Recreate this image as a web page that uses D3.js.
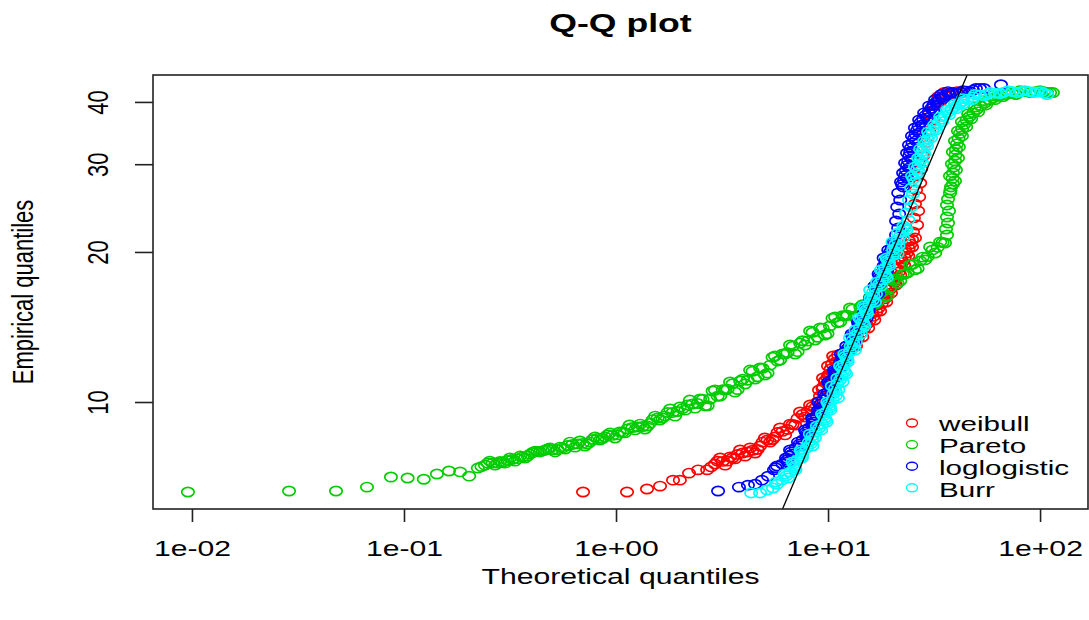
<!DOCTYPE html>
<html>
<head>
<meta charset="utf-8">
<script src="https://cdn.jsdelivr.net/npm/d3@7"></script>
<style>
  body { margin: 0; background: #fff; }
  text { font-family: "Liberation Sans", Arial, sans-serif; fill: #000; }
</style>
</head>
<body>
<div id="chart"></div>
<script>
var width = 1089,
    height = 620;

// the original picture is wider than tall, so glyphs and circles are stretched
var stretch = 1.37;

var xTicks = [0.01, 0.1, 1, 10, 100];
var xTickLabels = ["1e-02", "1e-01", "1e+00", "1e+01", "1e+02"];
var yTicks = [10, 20, 30, 40];
var xLimits = [0.00655, 168.3];
var yLimits = [6.10, 45.3];

var distNames = ["weibull", "Pareto", "loglogistic", "Burr"];
var distColors = ["#FF0000", "#00CD00", "#0000FF", "#00FFFF"];

// [theoretical quantile, empirical quantile]
var weibull = [
  [0.699,6.60],[1.127,6.60],[1.400,6.69],[1.613,6.78],[1.857,6.97],[2.00,6.97],[2.21,7.20],[2.44,7.31],[2.69,7.31],
  [2.93,7.51],[3.10,7.72],[3.27,7.47],[3.45,7.76],[3.64,7.69],[3.85,8.01],[4.06,7.79],[4.29,8.09],[4.53,7.90],[4.78,8.16],
  [5.04,8.47],[5.33,8.31],[5.62,8.51],[5.94,8.87],[6.27,8.59],[6.62,9.03],[6.99,8.99],[7.38,9.55],[7.79,9.33],[8.23,9.86],
  [8.68,9.72],[9.17,10.28],[9.68,11.02],[10.2,11.38],
  [2.81,7.41],[3.01,7.61],[3.18,7.60],[3.36,7.61],[3.54,7.72],[3.74,7.85],[3.95,7.90],[4.17,7.94],[4.41,8.00],[4.65,8.03],
  [4.91,8.31],[5.18,8.39],[5.47,8.41],[5.78,8.69],[6.10,8.73],[6.44,8.81],[6.80,9.01],[7.18,9.27],[7.58,9.44],[8.01,9.59],
  [8.45,9.79],[8.92,10.0],[9.42,10.64],[9.94,11.2],
  [9.07,10.57],[9.89,10.87],[9.47,11.17],[10.57,11.49],[10.0,11.81],[10.9,12.03],[10.57,12.37],[11.74,12.48],[12.43,12.83],
  [13.55,12.95],[13.12,13.32],[14.51,13.50],[14.05,13.95],[15.46,14.08],[14.9,14.54],[16.52,14.61],[16.15,15.09],[17.6,15.23],
  [17.04,15.65],[18.8,15.87],[18.2,16.32],[19.8,16.55],[19.18,17.02],[20.9,17.17],[20.25,17.65],[21.9,17.98],[21.2,18.49],
  [22.85,18.83],[22.1,19.36],[23.9,19.63],[23.1,20.19],[24.9,20.47],[24.1,21.04],[25.7,21.34],
  [9.48,10.72],[9.68,11.02],[10.02,11.33],[10.29,11.65],[10.45,11.92],[10.74,12.2],[11.16,12.43],[12.09,12.66],[12.99,12.89],
  [13.34,13.14],[13.82,13.41],[14.28,13.73],[14.76,14.02],[15.18,14.31],[15.71,14.58],[16.34,14.85],[16.88,15.16],[17.32,15.44],
  [17.92,15.76],[18.5,16.1],[19.0,16.44],[19.49,16.79],[20.04,17.1],[20.58,17.41],[21.08,17.82],[21.55,18.24],[22.03,18.66],
  [22.48,19.1],[23.0,19.5],[23.5,19.91],[24.0,20.33],[24.5,20.76],[24.9,21.19],
  [25.15,21.94],[26.3,22.66],[25.4,23.41],[26.6,24.18],[25.7,24.96],[26.9,25.79],[26.0,26.64],[27.2,27.51],[26.3,28.42],
  [27.5,29.36],[26.6,30.32],[28.1,31.17],[27.2,32.2],[29.0,33.1],[28.1,34.03],[30.0,34.99],[29.0,35.98],[31.3,36.82],
  [30.0,37.86],[32.0,38.55],[31.65,39.63],[33.8,40.0],[33.1,41.0],[36.0,41.0],[35.2,41.77],[38.4,41.58],[40.6,41.96],[42.8,41.77]
];

var pareto = [
  [0.00957,6.60],[0.0287,6.63],[0.0478,6.63],[0.0669,6.75],[0.0868,7.07],[0.104,7.04],[0.124,7.00],[0.143,7.17],
  [0.163,7.27],[0.184,7.24],[0.203,7.10],[0.223,7.37],
  [0.241,7.47],[0.254,7.61],[0.269,7.47],[0.284,7.60],[0.300,7.54],[0.316,7.72],[0.334,7.61],[0.353,7.79],[0.372,7.72],
  [0.393,7.86],[0.415,7.97],[0.438,7.94],[0.463,8.01],[0.488,8.09],[0.516,7.94],[0.544,8.12],[0.575,8.05],[0.607,8.31],
  [0.641,8.12],[0.676,8.35],[0.714,8.16],[0.754,8.31],[0.796,8.51],[0.840,8.39],[0.887,8.51],[0.937,8.67],[0.989,8.47],
  [1.04,8.71],[1.10,8.67],[1.16,8.99],[1.23,8.79],[1.30,9.03],[1.37,8.83],[1.45,9.07],[1.53,9.37],[1.61,9.20],[1.70,9.37],
  [1.80,9.68],[1.90,9.37],[2.00,9.77],[2.12,9.63],[2.23,10.09],[2.36,9.72],[2.49,10.14],[2.63,9.82],[2.78,10.14],[2.93,10.57],
  [3.10,10.28],[3.27,10.57],[3.45,10.97],[3.64,10.47],[3.85,11.02],[4.06,10.87],[4.29,11.59],[4.53,11.12],[4.78,11.70],
  [5.04,11.33],[5.33,11.86],[5.62,12.37],[5.94,12.14],[6.27,12.48],[6.62,13.01],[6.99,12.48],[7.38,13.13],[7.79,13.01],
  [8.23,13.88],[8.68,13.32],[9.17,14.08],[9.68,13.63],[10.2,14.21],[10.8,14.81],[11.4,14.47],[12.0,14.88],[12.7,15.44],
  [13.4,14.81],[14.2,15.51],[14.9,15.37],[15.8,16.24],[16.7,15.73],[17.6,16.55],[18.6,16.24],[19.6,16.94],[20.7,17.65],
  [21.9,17.49],[23.1,18.07],[24.4,18.83],[25.7,18.41],[27.2,19.19],[28.7,19.28],[30.3,20.47],[32.0,19.91],[33.8,20.95],[35.6,20.85],
  [0.232,7.42],[0.248,7.54],[0.262,7.54],[0.277,7.54],[0.292,7.57],[0.308,7.63],[0.325,7.67],[0.344,7.70],[0.363,7.76],
  [0.383,7.79],[0.404,7.92],[0.427,7.96],[0.451,7.98],[0.476,8.05],[0.502,8.02],[0.530,8.03],[0.560,8.09],[0.591,8.18],
  [0.624,8.22],[0.659,8.24],[0.695,8.26],[0.734,8.24],[0.775,8.41],[0.818,8.45],[0.864,8.45],[0.912,8.59],[0.963,8.57],
  [1.015,8.59],[1.07,8.69],[1.13,8.83],[1.195,8.89],[1.265,8.91],[1.335,8.93],[1.41,8.95],[1.49,9.22],[1.57,9.29],
  [1.655,9.29],[1.75,9.53],[1.85,9.53],[1.95,9.57],[2.06,9.70],[2.175,9.86],[2.295,9.91],[2.425,9.93],[2.56,10.13],
  [2.705,9.83],[2.855,10.52],[3.015,10.27],[3.185,10.59],[3.36,10.61],[3.545,10.88],[3.745,10.59],[3.955,11.11],[4.175,11.06],
  [4.41,11.53],[4.655,11.24],[4.91,11.69],[5.185,11.43],[5.475,12.30],[5.78,12.08],[6.105,12.49],[6.445,12.56],[6.805,12.94],
  [7.185,12.62],[7.585,13.27],[8.01,13.25],[8.455,13.80],[8.925,13.49],[9.425,14.07],[9.94,13.71],[10.5,14.73],[11.1,14.42],
  [11.7,14.90],[12.35,14.93],[13.05,15.36],[13.8,14.93],[14.55,15.67],[15.35,15.57],[16.25,16.23],[17.15,15.90],[18.1,16.65],
  [19.1,16.34],[20.15,17.56],[21.3,17.31],[22.5,18.05],[23.75,18.17],[25.05,18.90],[26.45,18.52],[27.95,19.53],[29.5,19.58],
  [31.15,20.19],[32.9,20.43],[34.7,20.90],
  [36.4,21.63],[36.0,22.24],[36.8,22.87],[36.4,23.51],[37.2,24.18],[36.4,24.85],[36.8,25.55],[37.6,26.27],
  [38.0,27.01],[39.7,27.77],[37.6,28.42],[40.1,29.22],[38.4,30.04],[41.0,30.88],[38.8,31.75],[41.4,32.50],[39.7,33.42],
  [42.8,34.19],[41.0,34.99],[44.8,35.64],[42.8,36.49],[47.3,36.99],[45.8,37.86],[51.0,38.21],[49.3,39.08],[55.6,39.45],
  [54.4,40.25],[61.3,40.44],[60.0,41.19],[66.9,41.0],[70.7,41.77],[77.0,41.39],[80.5,42.15],[89.7,41.77],[100,42.15],
  [108,41.77],[115,41.77],
  [37.8,26.64],[38.85,27.39],[38.65,28.1],[38.85,28.82],[39.25,29.63],[39.7,30.46],[39.9,31.3],[40.1,32.1],[40.55,32.96],
  [41.25,33.8],[41.9,34.59],[42.9,35.3],[43.8,36.05],[45.05,36.74],[46.55,37.4],[48.4,38.0],[50.15,38.63],[52.45,39.25],
  [55.0,39.85],[57.85,40.34],[60.65,40.8],[63.45,41.1],[68.8,41.39],[73.85,41.58],[78.75,41.77],[85.1,41.96],[94.85,41.96],
  [104,41.96],[111.5,41.77]
];

var loglogistic = [
  [3.03,6.63],[3.80,6.75],[4.19,6.81],[4.53,6.84],[4.88,6.97],[5.21,7.10],
  [5.56,7.31],[5.75,7.44],[6.45,7.58],[6.34,7.72],[6.77,7.86],[6.62,8.01],[7.46,8.16],[7.22,8.31],[7.96,8.47],[7.93,8.63],
  [7.79,8.79],[8.46,8.95],[8.50,9.12],[8.41,9.29],[9.27,9.46],[8.97,9.63],[9.44,9.82],[9.02,10.0],[9.93,10.19],[9.59,10.38],
  [10.42,10.57],[10.28,10.77],[10.03,10.97],[10.8,11.17],[10.8,11.38],[10.68,11.59],[11.74,11.81],[11.4,12.03],[12.0,12.25],
  [11.5,12.48],[12.65,12.71],[12.2,12.95],[13.33,13.19],[13.18,13.44],[12.92,13.69],[13.96,13.95],[13.98,14.21],[13.86,14.47],
  [15.23,14.74],[14.71,15.02],[15.55,15.30],[14.8,15.58],[16.39,15.87],[15.8,16.17],[17.19,16.47],[16.98,16.78],[16.55,17.09],
  [17.74,17.41],[17.64,17.74],[17.32,18.07],[19.03,18.41],[18.29,18.75],[19.18,19.10],[18.29,19.45],[20.01,19.82],[19.24,20.19],
  [20.78,20.56],[20.36,20.95],
  [5.66,7.38],[6.10,7.51],[6.40,7.65],[6.56,7.79],[6.70,7.94],[7.04,8.09],[7.34,8.23],[7.59,8.39],[7.95,8.55],[7.86,8.71],
  [8.13,8.87],[8.48,9.04],[8.46,9.21],[8.84,9.38],[9.12,9.55],[9.21,9.73],[9.23,9.91],[9.48,10.1],[9.76,10.29],[10.0,10.48],
  [10.35,10.67],[10.16,10.87],[10.42,11.07],[10.8,11.28],[10.74,11.49],[11.21,11.7],[11.57,11.92],[11.7,12.14],[11.75,12.37],
  [12.08,12.6],[12.43,12.83],[12.77,13.07],[13.26,13.32],[13.05,13.57],[13.44,13.82],[13.97,14.08],[13.92,14.34],[14.55,14.61],
  [14.97,14.88],[15.13,15.16],[15.18,15.44],[15.6,15.73],[16.1,16.02],[16.5,16.32],[17.09,16.63],[16.77,16.94],[17.15,17.25],
  [17.69,17.58],[17.48,17.91],[18.18,18.24],[18.66,18.58],[18.74,18.93],[18.74,19.28],[19.15,19.64],[19.63,20.0],[20.01,20.38],
  [20.57,20.76],
  [20.93,21.63],[21.43,22.35],[20.93,23.08],[21.66,23.84],[21.2,24.63],[21.9,25.43],[21.43,26.27],[22.6,27.01],
  [22.1,27.64],[23.6,28.16],[22.6,28.81],[24.1,29.49],[23.1,30.18],[24.7,30.74],[23.6,31.6],[25.15,31.9],[24.1,32.8],
  [26.0,33.42],[24.9,34.19],[26.9,34.67],[25.7,35.48],[27.8,35.98],[26.9,36.82],[29.3,37.16],[28.4,38.03],[31.3,38.38],
  [30.0,39.27],[32.7,39.45],[32.0,40.44],[34.8,40.62],[34.2,41.39],[37.6,41.19],[36.8,41.96],[40.6,41.58],[43.3,42.15],
  [46.8,41.96],[49.8,42.55],[54.4,42.55],[65.4,43.3],
  [22.35,27.32],[22.85,27.9],[23.1,28.48],[23.35,29.15],[23.6,29.83],[23.9,30.46],[24.15,31.17],[24.4,31.75],[24.6,32.35],
  [25.05,33.11],[25.45,33.8],[25.9,34.43],[26.3,35.07],[26.75,35.73],[27.35,36.4],[28.1,36.99],[28.85,37.6],[29.85,38.2],
  [30.65,38.82],[31.35,39.36],[32.35,39.94],[33.4,40.53],[34.5,41.0],[35.9,41.29],[37.2,41.58],[38.7,41.77],[41.95,41.86],
  [45.05,42.05],[48.3,42.25],[52.1,42.55]
];

var burr = [
  [4.34,6.57],[4.78,6.57],[5.16,6.66],[5.50,6.72],[5.75,6.84],
  [5.68,6.91],[6.47,7.04],[6.24,7.17],[7.02,7.31],[6.97,7.44],[6.80,7.58],[7.53,7.72],[7.54,7.86],[7.44,8.01],[8.44,8.16],
  [8.12,8.31],[8.67,8.47],[8.21,8.63],[9.28,8.79],[8.86,8.95],[9.85,9.12],[9.66,9.29],[9.37,9.46],[10.25,9.63],[10.17,9.82],
  [9.93,10.0],[11.13,10.19],[10.6,10.38],[11.18,10.57],[10.42,10.77],[11.7,10.97],[11.07,11.17],[12.17,11.38],[11.84,11.59],
  [11.4,11.81],[12.37,12.03],[12.26,12.25],[11.93,12.48],[13.4,12.71],[12.8,12.95],[13.52,13.19],[12.7,13.44],[14.28,13.69],
  [13.48,13.95],[14.84,14.21],[14.55,14.47],[14.03,14.74],[15.25,15.02],[15.12,15.30],[14.72,15.58],[16.63,15.87],[15.87,16.17],
  [16.83,16.47],[15.8,16.78],[17.83,17.09],[17.05,17.41],[18.89,17.74],[18.43,18.07],[17.79,18.41],[19.45,18.75],[19.3,19.10],
  [18.91,19.45],[21.26,19.82],[20.27,20.19],[21.5,20.56],[20.14,20.95],[22.6,21.34],[21.36,21.83],[23.47,22.14],[22.7,22.55],
  [6.08,6.98],[6.36,7.11],[6.63,7.24],[7.0,7.38],[6.89,7.51],[7.17,7.65],[7.54,7.79],[7.49,7.94],[7.94,8.09],[8.28,8.24],
  [8.4,8.39],[8.44,8.55],[8.75,8.71],[9.07,8.87],[9.36,9.04],[9.76,9.21],[9.52,9.38],[9.81,9.55],[10.21,9.73],[10.05,9.91],
  [10.53,10.1],[10.87,10.29],[10.89,10.48],[10.8,10.67],[11.06,10.87],[11.39,11.07],[11.62,11.28],[12.0,11.49],[11.62,11.7],
  [11.89,11.92],[12.32,12.14],[12.1,12.37],[12.67,12.6],[13.1,12.83],[13.16,13.07],[13.11,13.32],[13.49,13.57],[13.88,13.82],
  [14.16,14.08],[14.7,14.34],[14.29,14.61],[14.64,14.88],[15.19,15.16],[14.92,15.44],[15.68,15.73],[16.25,16.02],[16.35,16.32],
  [16.32,16.63],[16.82,16.94],[17.44,17.25],[17.97,17.58],[18.66,17.91],[18.11,18.24],[18.62,18.58],[19.38,18.93],[19.1,19.28],
  [20.09,19.64],[20.77,20.0],[20.89,20.38],[20.82,20.76],[21.37,21.15],[21.98,21.59],[22.42,21.99],[23.09,22.35],
  [23.9,23.19],[23.35,23.95],[24.7,24.63],[24.1,25.43],[25.15,26.15],[24.7,26.88],[25.7,27.64],
  [24.9,28.42],[26.9,28.94],[25.7,29.63],[27.8,30.18],[26.6,30.88],[28.4,31.46],[27.2,32.2],[29.3,32.65],[28.4,33.42],
  [30.6,33.88],[29.65,34.83],[32.35,35.15],[31.65,35.98],[34.5,36.49],[33.8,37.34],[37.2,37.69],[36.4,38.55],[40.1,38.73],
  [39.7,39.63],[43.3,39.63],[43.3,40.62],[47.8,40.44],[49.3,41.39],[55.0,41.19],[58.1,41.77],[64.7,41.58],[70.6,42.15],
  [77.9,41.77],[84.9,42.15],[93.7,41.77],[101.1,41.96],[108,41.39],
  [25.3,28.03],[25.9,28.68],[26.3,29.28],[26.75,29.9],[27.2,30.53],[27.5,31.17],[27.8,31.83],[28.25,32.42],[28.85,33.03],
  [29.5,33.65],[30.1,34.35],[31.0,34.99],[32.0,35.56],[33.05,36.23],[34.15,36.91],[35.5,37.51],[36.8,38.12],[38.25,38.64],
  [39.9,39.18],[41.5,39.63],[43.3,40.12],[45.55,40.53],[48.55,40.91],[52.15,41.29],[56.55,41.48],[61.4,41.67],[67.65,41.86],
  [74.25,41.96],[81.4,41.96],[89.3,41.96],[97.4,41.86],[104.5,41.67]
];

var series = [weibull, pareto, loglogistic, burr];

var plot = {left: 153, right: 1088, top: 75, bottom: 509};

var svg = d3.select("#chart")
  .append("svg")
  .attr("width", width)
  .attr("height", height);

var x = d3.scaleLog().domain(xLimits).range([plot.left, plot.right]);
var y = d3.scaleLog().domain(yLimits).range([plot.bottom, plot.top]);

// points, in the order R draws them
series.forEach(function(data, i){
  svg.append("g")
    .selectAll("ellipse")
    .data(data)
    .enter()
    .append("ellipse")
    .attr("cx", function(d){ return x(d[0]) })
    .attr("cy", function(d){ return y(d[1]) })
    .attr("rx", 6.2)
    .attr("ry", 4.6)
    .attr("fill", "none")
    .attr("stroke", distColors[i])
    .attr("stroke-width", 1.7);
});

// y = x reference line
svg.append("line")
  .attr("x1", x(yLimits[0])).attr("y1", y(yLimits[0]))
  .attr("x2", x(yLimits[1])).attr("y2", y(yLimits[1]))
  .attr("stroke", "#000")
  .attr("stroke-width", 1.3);

// box
svg.append("rect")
  .attr("x", plot.left).attr("y", plot.top)
  .attr("width", plot.right - plot.left)
  .attr("height", plot.bottom - plot.top)
  .attr("fill", "none")
  .attr("stroke", "#222")
  .attr("stroke-width", 1.6);

// x axis
var gx = svg.append("g")
  .attr("transform", "translate(0," + plot.bottom + ")")
  .call(d3.axisBottom(x)
    .tickValues(xTicks)
    .tickFormat(function(d, i){ return xTickLabels[i] })
    .tickSize(13)
    .tickSizeOuter(0));
gx.select(".domain").remove();
gx.selectAll(".tick line").attr("stroke", "#222").attr("stroke-width", 1.6);
gx.selectAll(".tick text")
  .attr("y", 47)
  .attr("dy", 0)
  .attr("font-size", 22)
  .attr("transform", "scale(" + stretch + ",1)");

// y axis, labels turned like R does
var gy = svg.append("g")
  .attr("transform", "translate(" + plot.left + ",0)")
  .call(d3.axisLeft(y)
    .tickValues(yTicks)
    .tickFormat(d3.format("d"))
    .tickSize(18)
    .tickSizeOuter(0));
gy.select(".domain").remove();
gy.selectAll(".tick line").attr("stroke", "#222").attr("stroke-width", 1.6);
gy.selectAll(".tick text")
  .attr("x", 0)
  .attr("y", 0)
  .attr("dy", 0)
  .attr("text-anchor", "middle")
  .attr("font-size", 22)
  .attr("transform", "translate(-45,0) rotate(-90) scale(1," + stretch + ")");

// titles
svg.append("text")
  .attr("transform", "translate(620.5,32) scale(" + stretch + ",1)")
  .attr("text-anchor", "middle")
  .attr("font-size", 26)
  .attr("font-weight", "bold")
  .text("Q-Q plot");

svg.append("text")
  .attr("transform", "translate(620.5,584) scale(" + stretch + ",1)")
  .attr("text-anchor", "middle")
  .attr("font-size", 22)
  .text("Theoretical quantiles");

svg.append("text")
  .attr("transform", "translate(33,292) rotate(-90) scale(1," + stretch + ")")
  .attr("text-anchor", "middle")
  .attr("font-size", 22)
  .text("Empirical quantiles");

// legend
var legend = svg.append("g").attr("transform", "translate(912,431)");
distNames.forEach(function(name, i){
  legend.append("ellipse")
    .attr("cx", 0)
    .attr("cy", i * 21.6 - 8)
    .attr("rx", 5.5)
    .attr("ry", 4)
    .attr("fill", "none")
    .attr("stroke", distColors[i])
    .attr("stroke-width", 1.4);
  legend.append("text")
    .attr("transform", "translate(27," + (i * 22) + ") scale(1.52,1)")
    .attr("font-size", 19.5)
    .text(name);
});
</script>
</body>
</html>
